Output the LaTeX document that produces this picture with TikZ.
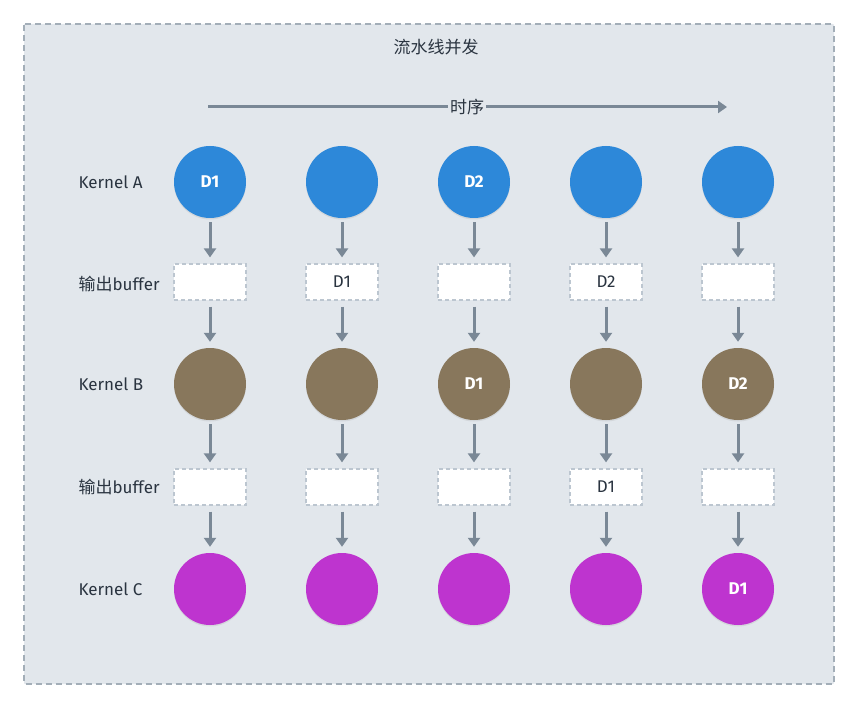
\documentclass[tikz,border=0pt]{standalone}
\usepackage{fontspec}
\setmainfont{Fira Sans}
\newfontfamily\cjk{Noto Sans CJK SC}
\usetikzlibrary{arrows.meta,shadows}
\definecolor{bgc}{HTML}{E2E7EC}
\definecolor{bordc}{HTML}{A3AEB8}
\definecolor{arrc}{HTML}{7A8896}
\definecolor{txtc}{HTML}{2A3440}
\definecolor{kA}{HTML}{2D88D9}
\definecolor{kB}{HTML}{88775C}
\definecolor{kC}{HTML}{BE34CF}
\definecolor{bufb}{HTML}{BCC6D0}
\tikzset{
  kern/.style={circle,minimum size=72pt,inner sep=0pt,text=white,font=\fontsize{17}{20}\selectfont\bfseries,
    drop shadow={shadow xshift=0pt,shadow yshift=-1.5pt,opacity=0.15}},
  kernA/.style={kern,fill=kA},
  kernB/.style={kern,fill=kB},
  kernC/.style={kern,fill=kC},
  buf/.style={rectangle,minimum width=72pt,minimum height=36pt,inner sep=0pt,fill=white,draw=bufb,
    dash pattern=on 4pt off 3pt,line width=1.2pt,text=txtc,font=\fontsize{17}{20}\selectfont},
  lab/.style={anchor=west,text=txtc,font=\fontsize{17}{20}\selectfont},
  flow/.style={draw=arrc,line width=3pt,-{Triangle[width=12pt,length=9pt]}},
}
\begin{document}
\begin{tikzpicture}[x=1pt,y=-1pt]
\useasboundingbox (0,0) rectangle (858,708);
\draw[fill=bgc,draw=bordc,line width=1.3pt,dash pattern=on 6pt off 4pt,rounded corners=1pt] (24,24) rectangle (834,684);
\node[text=txtc,font=\cjk\fontsize{17}{20}\selectfont] (title) at (436,47) {流水线并发};
% timeline
\node[text=txtc,font=\cjk\fontsize{17}{20}\selectfont,inner sep=2pt] (ts) at (467,107) {时序};
\coordinate (t0) at (208,107);
\coordinate (t1) at (727,107);
\draw[draw=arrc,line width=3pt] (t0) -- (ts.west);
\draw[flow] (ts.east) -- (t1);
% row labels
\node[lab] (la) at (75,182) {Kernel A};
\node[lab] (lb1) at (75,284) {{\cjk 输出}buffer};
\node[lab] (lb) at (75,384) {Kernel B};
\node[lab] (lb2) at (75,487) {{\cjk 输出}buffer};
\node[lab] (lc) at (75,589) {Kernel C};
% kernel A row
\node[kernA] (a1) at (210,182) {D1};
\node[kernA] (a2) at (342,182) {};
\node[kernA] (a3) at (474,182) {D2};
\node[kernA] (a4) at (606,182) {};
\node[kernA] (a5) at (738,182) {};
\node[buf] (p1) at (210,282) {};
\node[buf] (p2) at (342,282) {D1};
\node[buf] (p3) at (474,282) {};
\node[buf] (p4) at (606,282) {D2};
\node[buf] (p5) at (738,282) {};
\node[kernB] (b1) at (210,384) {};
\node[kernB] (b2) at (342,384) {};
\node[kernB] (b3) at (474,384) {D1};
\node[kernB] (b4) at (606,384) {};
\node[kernB] (b5) at (738,384) {D2};
\node[buf] (q1) at (210,487) {};
\node[buf] (q2) at (342,487) {};
\node[buf] (q3) at (474,487) {};
\node[buf] (q4) at (606,487) {D1};
\node[buf] (q5) at (738,487) {};
\node[kernC] (c1) at (210,589) {};
\node[kernC] (c2) at (342,589) {};
\node[kernC] (c3) at (474,589) {};
\node[kernC] (c4) at (606,589) {};
\node[kernC] (c5) at (738,589) {D1};
\foreach \i in {1,...,5}{
  \draw[flow,shorten <=4pt,shorten >=6pt] (a\i) -- (p\i);
  \draw[flow,shorten <=6pt,shorten >=6pt] (p\i) -- (b\i);
  \draw[flow,shorten <=4pt,shorten >=6pt] (b\i) -- (q\i);
  \draw[flow,shorten <=6pt,shorten >=6pt] (q\i) -- (c\i);
}
\end{tikzpicture}
\end{document}
